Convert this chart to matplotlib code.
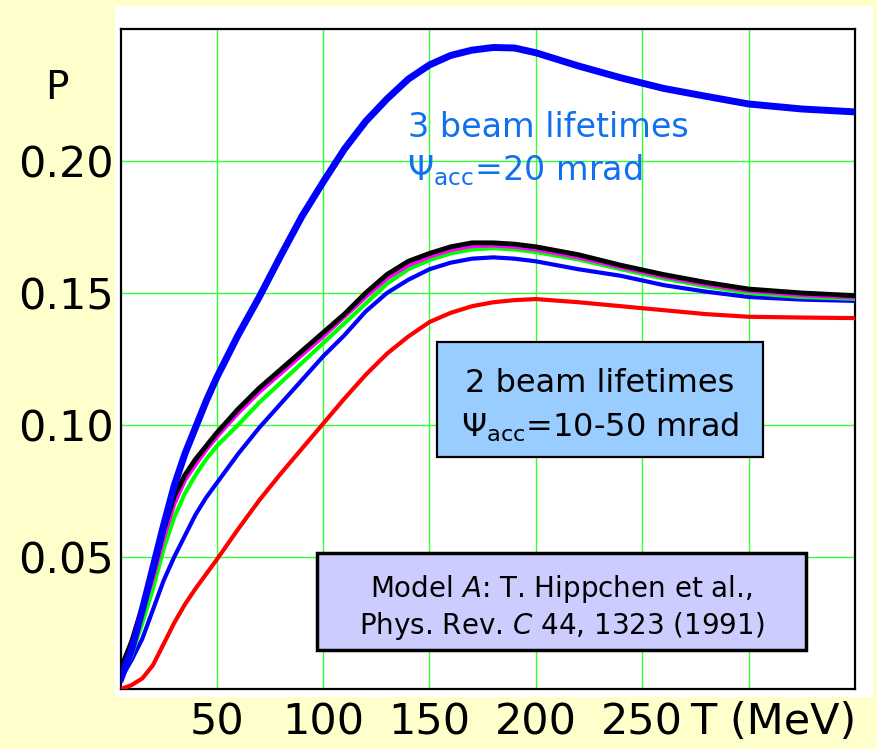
import matplotlib
matplotlib.use('Agg')
import matplotlib.pyplot as plt
from matplotlib.patches import Rectangle

# kinetic energy T (MeV)
T = [5, 10, 15, 20, 25, 30, 35, 40, 45, 50, 60, 70, 80, 90, 100, 110, 120, 130,
     140, 150, 160, 170, 180, 190, 200, 220, 240, 260, 280, 300, 325, 350]

# 3 beam lifetimes, psi_acc = 20 mrad (thick blue)
p_3life = [0.004, 0.015, 0.030, 0.046, 0.062, 0.077, 0.089, 0.099, 0.109, 0.118,
           0.134, 0.1485, 0.164, 0.179, 0.192, 0.2045, 0.215, 0.2235, 0.231,
           0.2364, 0.240, 0.242, 0.243, 0.2428, 0.241, 0.236, 0.2315, 0.2275,
           0.2245, 0.2216, 0.2197, 0.2186]

# 2 beam lifetimes, psi_acc = 10..50 mrad
p_black = [0.008, 0.018, 0.031, 0.044, 0.060, 0.073, 0.081, 0.087, 0.092, 0.097,
           0.106, 0.114, 0.121, 0.128, 0.135, 0.142, 0.150, 0.157, 0.162, 0.165,
           0.1675, 0.169, 0.169, 0.1685, 0.1675, 0.1645, 0.1605, 0.157, 0.154,
           0.1515, 0.150, 0.149]
p_magenta = [0.0055, 0.016, 0.029, 0.042, 0.057, 0.070, 0.079, 0.085, 0.0905,
             0.0955, 0.1045, 0.1125, 0.1195, 0.1265, 0.1335, 0.141, 0.1485, 0.1555,
             0.1605, 0.1638, 0.1663, 0.1678, 0.168, 0.1675, 0.1665, 0.1635, 0.1597,
             0.1562, 0.1532, 0.1508, 0.1492, 0.1483]
p_green = [0.004, 0.013, 0.025, 0.038, 0.053, 0.065, 0.074, 0.081, 0.087, 0.092,
           0.100, 0.1085, 0.116, 0.1235, 0.131, 0.1385, 0.146, 0.1535, 0.159,
           0.1625, 0.165, 0.1665, 0.167, 0.1665, 0.1655, 0.1627, 0.159, 0.1555,
           0.1525, 0.150, 0.1485, 0.1478]
p_blue = [0.004, 0.011, 0.019, 0.030, 0.041, 0.050, 0.058, 0.066, 0.0725, 0.078,
          0.089, 0.099, 0.108, 0.117, 0.126, 0.134, 0.143, 0.150, 0.155, 0.159,
          0.1615, 0.163, 0.1635, 0.163, 0.162, 0.159, 0.1565, 0.153, 0.1505,
          0.1485, 0.1475, 0.147]
p_red = [0.000, 0.0015, 0.004, 0.009, 0.017, 0.025, 0.032, 0.038, 0.0435, 0.049,
         0.0605, 0.0715, 0.0815, 0.091, 0.1005, 0.110, 0.119, 0.127, 0.1335, 0.139,
         0.1425, 0.145, 0.1465, 0.1473, 0.1477, 0.1465, 0.145, 0.1435, 0.142,
         0.141, 0.1407, 0.1405]

yticks = [0.05, 0.10, 0.15, 0.20]
ytick_labels = ['0.05', '0.10', '0.15', '0.20']
xticks = [50, 100, 150, 200, 250, 300]
xtick_labels = ['50', '100', '150', '200', '250', '']

plt.rcParams['font.family'] = ['DejaVu Sans']
plt.rcParams['mathtext.fontset'] = 'dejavusans'

fig = plt.figure(figsize=(8.77, 7.49), dpi=100, facecolor='#FFFFCC')
# white panel behind the plot
fig.patches.append(Rectangle((115 / 877, 52 / 749), 758 / 877, 691 / 749,
                             transform=fig.transFigure, facecolor='white',
                             edgecolor='none', zorder=-1))
ax = fig.add_axes([121 / 877, 60 / 749, 734 / 877, 660 / 749])
ax.set_zorder(1)
ax.set_facecolor('white')

ax.plot(T, p_red, color='#FF0000', lw=3, zorder=4)
ax.plot(T, p_blue, color='#0000FF', lw=3, zorder=4)
ax.plot(T, p_green, color='#00FF00', lw=3, zorder=4)
ax.plot(T, p_magenta, color='#FF00FF', lw=3, zorder=4)
ax.plot(T, p_black, color='black', lw=3.5, zorder=4)
ax.plot(T, p_3life, color='#0000FF', lw=5, zorder=5)

ax.set_xlim(5, 350)
ax.set_ylim(0, 0.25)
ax.set_xticks(xticks)
ax.set_xticklabels(xtick_labels)
ax.set_yticks(yticks)
ax.set_yticklabels(ytick_labels)
ax.tick_params(length=0, labelsize=31)
ax.tick_params(axis='x', pad=9)
ax.tick_params(axis='y', pad=5)
ax.grid(True, color='#33FF33', lw=1)
ax.set_axisbelow(True)
for s in ax.spines.values():
    s.set_linewidth(1.6)
    s.set_color('black')

fig.text(57 / 877, 1 - 88 / 749, 'P', fontsize=28, ha='center', va='center')
fig.text(690 / 877, 1 - 722 / 749, 'T (MeV)', fontsize=31, ha='left', va='center')

# label for the 3 lifetime curve
c3 = '#1070F0'
ax.text(0.391, 0.836, '3 beam lifetimes', color=c3, fontsize=24,
        transform=ax.transAxes, ha='left', va='baseline')
ax.text(0.389, 0.771, r'$\Psi_{\rm acc}$=20 mrad', color=c3, fontsize=24,
        transform=ax.transAxes, ha='left', va='baseline')

# box: 2 beam lifetimes
ax.add_patch(Rectangle((0.4305, 0.3515), 0.4442, 0.1743, transform=ax.transAxes,
                       facecolor='#99CCFF', edgecolor='black', lw=1.6, zorder=6))
ax.text(0.6526, 0.45, '2 beam lifetimes', fontsize=23, transform=ax.transAxes,
        ha='center', va='baseline', zorder=7)
ax.text(0.6526, 0.382, r'$\Psi_{\rm acc}$=10-50 mrad', fontsize=23,
        transform=ax.transAxes, ha='center', va='baseline', zorder=7)

# box: model reference
ax.add_patch(Rectangle((0.267, 0.059), 0.666, 0.147, transform=ax.transAxes,
                       facecolor='#CCCCFF', edgecolor='black', lw=2.5, zorder=6))
ax.text(0.6, 0.139, r'Model $\it{A}$: T. Hippchen et al.,', fontsize=20,
        transform=ax.transAxes, ha='center', va='baseline', zorder=7)
ax.text(0.6, 0.083, r'Phys. Rev. $\it{C}$ 44, 1323 (1991)', fontsize=20,
        transform=ax.transAxes, ha='center', va='baseline', zorder=7)

fig.savefig('out.png', dpi=100, facecolor=fig.get_facecolor())
